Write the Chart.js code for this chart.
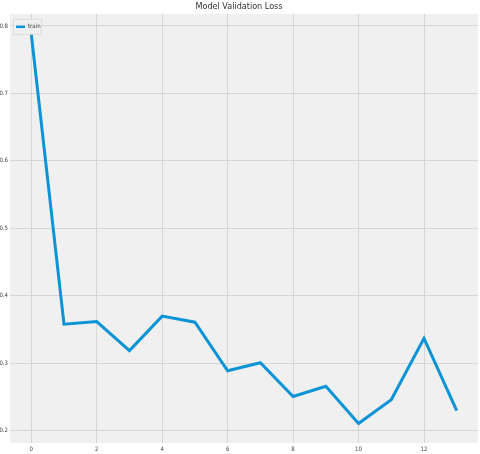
<!DOCTYPE html>
<html>
<head>
<meta charset="utf-8">
<script src="https://cdn.jsdelivr.net/npm/chart.js@4"></script>
<style>
  html, body { margin: 0; padding: 0; background: #ffffff; }
  #wrap { width: 480px; height: 454px; }
</style>
</head>
<body>
<div id="wrap"><canvas id="c" width="480" height="454"></canvas></div>
<script>
// ── Data ─────────────────────────────────────────────
const epochs = [0, 1, 2, 3, 4, 5, 6, 7, 8, 9, 10, 11, 12, 13];
const trainLoss = [0.788, 0.358, 0.362, 0.319, 0.370, 0.361, 0.289, 0.301, 0.251, 0.266, 0.211, 0.246, 0.337, 0.230];
const xTicks = [0, 2, 4, 6, 8, 10, 12];
const yTicks = [0.2, 0.3, 0.4, 0.5, 0.6, 0.7, 0.8];

const FONT = "'DejaVu Sans Condensed', 'Liberation Sans Narrow', sans-serif";

// plot background + inline legend
const plotBg = {
  id: "plotBg",
  beforeDraw(chart) {
    const { ctx, chartArea: a } = chart;
    ctx.save();
    ctx.fillStyle = "#f0f0f0";
    ctx.fillRect(a.left, a.top, a.right - a.left, a.bottom - a.top);
    ctx.restore();
  },
  afterDraw(chart) {
    const { ctx, chartArea: a } = chart;
    const ds = chart.data.datasets[0];
    const x = a.left + 3, y = a.top + 5;
    ctx.save();
    ctx.fillStyle = "rgba(240,240,240,0.8)";
    ctx.strokeStyle = "#dcdcdc";
    ctx.lineWidth = 1;
    ctx.fillRect(x, y, 28, 15);
    ctx.strokeRect(x + 0.5, y + 0.5, 28, 15);
    ctx.strokeStyle = ds.borderColor;
    ctx.lineWidth = 2.5;
    ctx.beginPath();
    ctx.moveTo(x + 3, y + 8);
    ctx.lineTo(x + 12, y + 8);
    ctx.stroke();
    ctx.fillStyle = "#333";
    ctx.font = "6px " + FONT;
    ctx.textBaseline = "middle";
    ctx.fillText(ds.label, x + 15, y + 8);
    ctx.restore();
  }
};

new Chart(document.getElementById("c"), {
  type: "line",
  data: {
    datasets: [{
      label: "train",
      data: epochs.map((e, i) => ({ x: e, y: trainLoss[i] })),
      borderColor: "#0b93d7",
      borderWidth: 3,
      pointRadius: 0,
      tension: 0,
      fill: false
    }]
  },
  options: {
    responsive: false,
    animation: false,
    layout: { padding: { right: 2, left: 0, bottom: 0 } },
    plugins: {
      legend: { display: false },
      tooltip: { enabled: false },
      title: {
        display: true,
        text: "Model Validation Loss",
        color: "#333",
        font: { family: FONT, size: 9, weight: "normal" },
        padding: { top: 1, bottom: 2 }
      }
    },
    scales: {
      x: {
        type: "linear",
        min: -0.65,
        max: 13.65,
        afterBuildTicks(s) { s.ticks = xTicks.map(v => ({ value: v })); },
        afterFit(s) { s.height = 11; },
        border: { display: false },
        grid: { color: "#d6d6d6", lineWidth: 1, drawTicks: false },
        ticks: {
          color: "#444",
          font: { family: FONT, size: 6 },
          padding: 3,
          maxRotation: 0,
          callback: v => String(v)
        }
      },
      y: {
        min: 0.182,
        max: 0.818,
        afterBuildTicks(s) { s.ticks = yTicks.map(v => ({ value: v })); },
        afterFit(s) { s.width = 10; },
        border: { display: false },
        grid: { color: "#d6d6d6", lineWidth: 1, drawTicks: false },
        ticks: {
          color: "#444",
          font: { family: FONT, size: 6 },
          padding: 2,
          callback: v => String(Math.round(v * 10) / 10)
        }
      }
    }
  },
  plugins: [plotBg]
});
</script>
</body>
</html>
